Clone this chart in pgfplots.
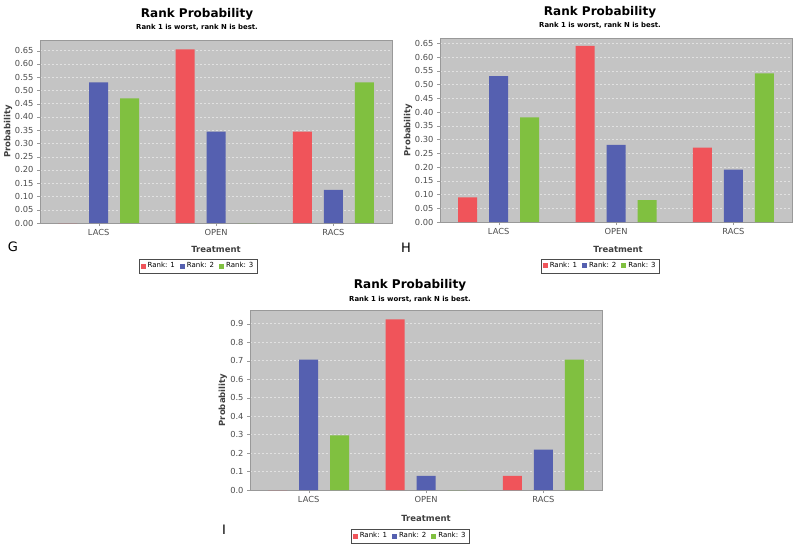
\documentclass[border=0pt]{standalone}
\usepackage{fontspec}
\setmainfont{DejaVu Sans}
\usepackage{pgfplots}
\pgfplotsset{compat=1.18}
\definecolor{rankred}{HTML}{F0545A}
\definecolor{rankblue}{HTML}{5560B0}
\definecolor{rankgreen}{HTML}{80C040}
\definecolor{plotbg}{HTML}{C4C4C4}

\pgfplotsset{
  rankplot/.style={
    scale only axis, width=352pt,
    ybar=12pt, bar width=19pt,
    xmin=-0.5, xmax=2.5, ymin=0,
    xtick={0,1,2}, xticklabels={LACS,OPEN,RACS},
    axis background/.style={fill=plotbg},
    ymajorgrids, grid style={white!50!plotbg, dash pattern=on 2pt off 2pt},
    axis line style={gray!80},
    tick style={gray!80},
    tick align=outside, major tick length=3pt,
    xtick pos=bottom, ytick pos=left,
    ticklabel style={font=\fontsize{8.3}{9}\selectfont, text=black!70},
    /pgf/number format/assume math mode=true,
    xlabel={Treatment}, ylabel={Probability},
    label style={font=\bfseries\fontsize{8.5}{10}\selectfont, text=black!75},
    legend columns=3,
    legend style={font=\fontsize{7}{8}\selectfont, draw=black!70, inner sep=1.5pt,
      /tikz/every even column/.append style={column sep=3pt}},
    legend image code/.code={\fill[##1] (0pt,-2.5pt) rectangle (5pt,2.5pt);},
  },
  twodec/.style={
    ytick={0,0.05,0.10,0.15,0.20,0.25,0.30,0.35,0.40,0.45,0.50,0.55,0.60,0.65},
    yticklabel style={/pgf/number format/.cd, fixed, fixed zerofill, precision=2},
  },
}

\begin{document}
\begin{tikzpicture}
\useasboundingbox (0,0) rectangle (800pt,-544pt);

% G
\begin{axis}[rankplot, twodec, at={(40pt,-223pt)}, anchor=south west,
  height=183pt, ymax=0.69,
  xlabel style={at={(axis description cs:0.5,-0.142)}, anchor=center},
  ylabel style={at={(axis description cs:-0.091,0.5)}, anchor=center},
  legend style={at={(0.449,-0.235)}, anchor=center}]
\addplot[fill=rankred, draw=none] coordinates {(0,0) (1,0.655) (2,0.345)};
\addplot[fill=rankblue, draw=none] coordinates {(0,0.53) (1,0.345) (2,0.125)};
\addplot[fill=rankgreen, draw=none] coordinates {(0,0.47) (1,0) (2,0.53)};
\legend{Rank: 1, Rank: 2, Rank: 3}
\end{axis}

% H
\begin{axis}[rankplot, twodec, at={(440pt,-222pt)}, anchor=south west,
  height=184pt, ymax=0.669,
  xlabel style={at={(axis description cs:0.506,-0.147)}, anchor=center},
  ylabel style={at={(axis description cs:-0.091,0.5)}, anchor=center},
  legend style={at={(0.455,-0.239)}, anchor=center}]
\addplot[fill=rankred, draw=none] coordinates {(0,0.09) (1,0.64) (2,0.27)};
\addplot[fill=rankblue, draw=none] coordinates {(0,0.53) (1,0.28) (2,0.19)};
\addplot[fill=rankgreen, draw=none] coordinates {(0,0.38) (1,0.08) (2,0.54)};
\legend{Rank: 1, Rank: 2, Rank: 3}
\end{axis}

% I
\begin{axis}[rankplot, at={(250pt,-490pt)}, anchor=south west,
  height=180pt, ymax=0.974,
  ytick={0,0.1,0.2,0.3,0.4,0.5,0.6,0.7,0.8,0.9},
  yticklabel style={/pgf/number format/.cd, fixed, fixed zerofill, precision=1},
  xlabel style={at={(axis description cs:0.5,-0.156)}, anchor=center},
  ylabel style={at={(axis description cs:-0.077,0.5)}, anchor=center},
  legend style={at={(0.455,-0.256)}, anchor=center}]
\addplot[fill=rankred, draw=none] coordinates {(0,0) (1,0.923) (2,0.077)};
\addplot[fill=rankblue, draw=none] coordinates {(0,0.705) (1,0.077) (2,0.218)};
\addplot[fill=rankgreen, draw=none] coordinates {(0,0.295) (1,0) (2,0.705)};
\legend{Rank: 1, Rank: 2, Rank: 3}
\end{axis}

% titles and panel letters
\tikzset{ttl/.style={font=\bfseries\fontsize{12}{14}\selectfont},
         sub/.style={font=\bfseries\fontsize{6.9}{8}\selectfont},
         pnl/.style={font=\fontsize{13}{15}\selectfont}}
\node[ttl] at (197pt,-14pt) {Rank Probability};
\node[sub] at (197pt,-27pt) {Rank 1 is worst, rank N is best.};
\node[ttl] at (600pt,-12pt) {Rank Probability};
\node[sub] at (600pt,-25pt) {Rank 1 is worst, rank N is best.};
\node[ttl] at (410pt,-285pt) {Rank Probability};
\node[sub] at (410pt,-299pt) {Rank 1 is worst, rank N is best.};
\node[pnl] at (13pt,-247pt) {G};
\node[pnl] at (406pt,-248pt) {H};
\node[pnl] at (224pt,-530pt) {I};
\end{tikzpicture}
\end{document}
